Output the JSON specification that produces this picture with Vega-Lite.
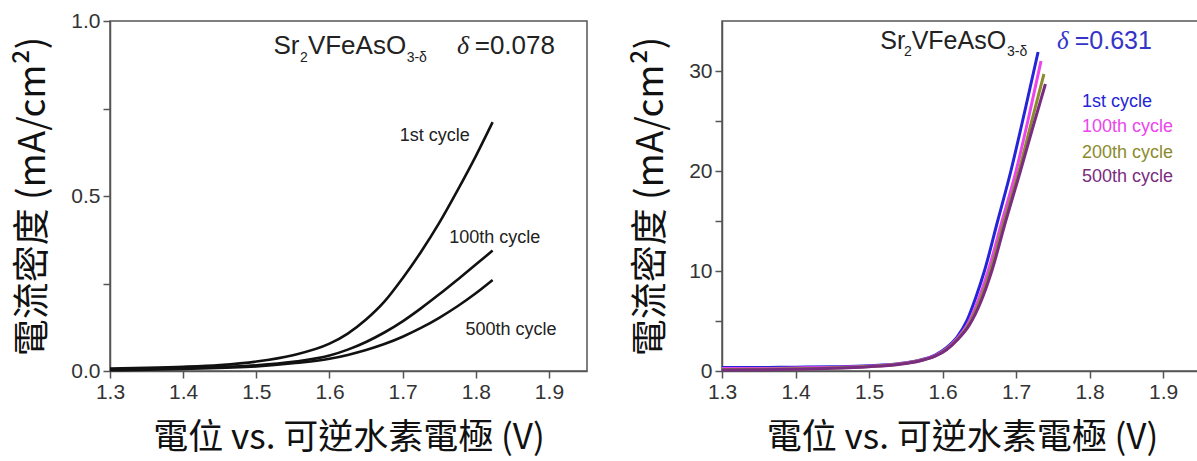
{
  "$schema": "https://vega.github.io/schema/vega-lite/v6.json",
  "background": "white",
  "padding": {"left": 14, "top": 9, "right": 0, "bottom": 4},
  "bounds": "flush",
  "spacing": 135,
  "config": {
    "view": {"stroke": "#555", "strokeWidth": 1.5},
    "axis": {
      "grid": false, "domainColor": "#555", "domainWidth": 1.5,
      "tickColor": "#555", "tickWidth": 1.5, "tickSize": 7, "labelFlush": false, "labelOverlap": false,
      "labelFont": "Liberation Sans", "labelFontSize": 21, "labelColor": "#333", "labelPadding": 3,
      "titleFont": "Noto Sans CJK TC", "titleFontSize": 35, "titleFontWeight": "normal", "titleColor": "#111"
    },
    "axisY": {"titleFontSize": 37},
    "text": {"font": "Liberation Sans"}
  },
  "datasets": {
    "left": [
      {"x":1.30,"y":0.007,"s":"1st"},{"x":1.35,"y":0.009,"s":"1st"},{"x":1.40,"y":0.012,"s":"1st"},{"x":1.45,"y":0.017,"s":"1st"},{"x":1.50,"y":0.027,"s":"1st"},{"x":1.55,"y":0.045,"s":"1st"},{"x":1.60,"y":0.078,"s":"1st"},{"x":1.625,"y":0.107,"s":"1st"},{"x":1.65,"y":0.147,"s":"1st"},{"x":1.675,"y":0.198,"s":"1st"},{"x":1.70,"y":0.265,"s":"1st"},{"x":1.725,"y":0.34,"s":"1st"},{"x":1.75,"y":0.423,"s":"1st"},{"x":1.775,"y":0.516,"s":"1st"},{"x":1.80,"y":0.614,"s":"1st"},{"x":1.823,"y":0.711,"s":"1st"},
      {"x":1.30,"y":0.004,"s":"100th"},{"x":1.40,"y":0.008,"s":"100th"},{"x":1.50,"y":0.016,"s":"100th"},{"x":1.55,"y":0.026,"s":"100th"},{"x":1.60,"y":0.044,"s":"100th"},{"x":1.625,"y":0.061,"s":"100th"},{"x":1.65,"y":0.083,"s":"100th"},{"x":1.675,"y":0.11,"s":"100th"},{"x":1.70,"y":0.142,"s":"100th"},{"x":1.725,"y":0.179,"s":"100th"},{"x":1.75,"y":0.219,"s":"100th"},{"x":1.775,"y":0.261,"s":"100th"},{"x":1.80,"y":0.304,"s":"100th"},{"x":1.823,"y":0.344,"s":"100th"},
      {"x":1.30,"y":0.002,"s":"500th"},{"x":1.40,"y":0.006,"s":"500th"},{"x":1.50,"y":0.013,"s":"500th"},{"x":1.55,"y":0.022,"s":"500th"},{"x":1.60,"y":0.035,"s":"500th"},{"x":1.625,"y":0.046,"s":"500th"},{"x":1.65,"y":0.060,"s":"500th"},{"x":1.675,"y":0.077,"s":"500th"},{"x":1.70,"y":0.098,"s":"500th"},{"x":1.725,"y":0.123,"s":"500th"},{"x":1.75,"y":0.152,"s":"500th"},{"x":1.775,"y":0.185,"s":"500th"},{"x":1.80,"y":0.222,"s":"500th"},{"x":1.823,"y":0.26,"s":"500th"}
    ],
    "leftLabels": [
      {"x":1.744,"y":0.671,"t":"1st cycle"},
      {"x":1.826,"y":0.380,"t":"100th cycle"},
      {"x":1.848,"y":0.117,"t":"500th cycle"}
    ],
    "leftMain": [{"x":1.5235,"y":0.905,"t":"Sr"},{"x":1.5705,"y":0.905,"t":"VFeAsO"},{"x":1.7985,"y":0.905,"t":"=0.078"}],
    "leftSub": [{"x":1.5596,"y":0.882,"t":"2"},{"x":1.7055,"y":0.882,"t":"3-δ"}],
    "leftDelta": [{"x":1.7743,"y":0.905,"t":"δ"}],
    "right": [
      {"x":1.30,"y":0.35,"s":"1st cycle"},{"x":1.35,"y":0.35,"s":"1st cycle"},{"x":1.40,"y":0.38,"s":"1st cycle"},{"x":1.45,"y":0.42,"s":"1st cycle"},{"x":1.50,"y":0.52,"s":"1st cycle"},{"x":1.54,"y":0.72,"s":"1st cycle"},{"x":1.57,"y":1.1,"s":"1st cycle"},{"x":1.59,"y":1.6,"s":"1st cycle"},{"x":1.605,"y":2.3,"s":"1st cycle"},{"x":1.62,"y":3.4,"s":"1st cycle"},{"x":1.633,"y":5.0,"s":"1st cycle"},{"x":1.645,"y":7.3,"s":"1st cycle"},{"x":1.657,"y":10.0,"s":"1st cycle"},{"x":1.675,"y":15.0,"s":"1st cycle"},{"x":1.693,"y":20.0,"s":"1st cycle"},{"x":1.712,"y":26.0,"s":"1st cycle"},{"x":1.730,"y":31.9,"s":"1st cycle"},
      {"x":1.30,"y":0.25,"s":"100th cycle"},{"x":1.35,"y":0.25,"s":"100th cycle"},{"x":1.40,"y":0.3,"s":"100th cycle"},{"x":1.45,"y":0.36,"s":"100th cycle"},{"x":1.50,"y":0.48,"s":"100th cycle"},{"x":1.54,"y":0.7,"s":"100th cycle"},{"x":1.57,"y":1.07,"s":"100th cycle"},{"x":1.59,"y":1.55,"s":"100th cycle"},{"x":1.605,"y":2.2,"s":"100th cycle"},{"x":1.62,"y":3.25,"s":"100th cycle"},{"x":1.635,"y":4.8,"s":"100th cycle"},{"x":1.648,"y":7.0,"s":"100th cycle"},{"x":1.662,"y":10.0,"s":"100th cycle"},{"x":1.681,"y":15.0,"s":"100th cycle"},{"x":1.700,"y":20.0,"s":"100th cycle"},{"x":1.717,"y":25.3,"s":"100th cycle"},{"x":1.734,"y":31.0,"s":"100th cycle"},
      {"x":1.30,"y":0.15,"s":"200th cycle"},{"x":1.35,"y":0.18,"s":"200th cycle"},{"x":1.40,"y":0.22,"s":"200th cycle"},{"x":1.45,"y":0.3,"s":"200th cycle"},{"x":1.50,"y":0.45,"s":"200th cycle"},{"x":1.54,"y":0.68,"s":"200th cycle"},{"x":1.57,"y":1.05,"s":"200th cycle"},{"x":1.59,"y":1.5,"s":"200th cycle"},{"x":1.605,"y":2.15,"s":"200th cycle"},{"x":1.62,"y":3.15,"s":"200th cycle"},{"x":1.636,"y":4.7,"s":"200th cycle"},{"x":1.65,"y":6.9,"s":"200th cycle"},{"x":1.665,"y":10.0,"s":"200th cycle"},{"x":1.684,"y":15.0,"s":"200th cycle"},{"x":1.704,"y":20.0,"s":"200th cycle"},{"x":1.721,"y":24.9,"s":"200th cycle"},{"x":1.738,"y":29.7,"s":"200th cycle"},
      {"x":1.30,"y":0.1,"s":"500th cycle"},{"x":1.35,"y":0.12,"s":"500th cycle"},{"x":1.40,"y":0.18,"s":"500th cycle"},{"x":1.45,"y":0.27,"s":"500th cycle"},{"x":1.50,"y":0.43,"s":"500th cycle"},{"x":1.54,"y":0.66,"s":"500th cycle"},{"x":1.57,"y":1.03,"s":"500th cycle"},{"x":1.59,"y":1.48,"s":"500th cycle"},{"x":1.605,"y":2.1,"s":"500th cycle"},{"x":1.62,"y":3.1,"s":"500th cycle"},{"x":1.637,"y":4.65,"s":"500th cycle"},{"x":1.652,"y":6.9,"s":"500th cycle"},{"x":1.667,"y":10.0,"s":"500th cycle"},{"x":1.686,"y":15.0,"s":"500th cycle"},{"x":1.706,"y":20.0,"s":"500th cycle"},{"x":1.723,"y":24.4,"s":"500th cycle"},{"x":1.740,"y":28.7,"s":"500th cycle"}
    ],
    "rightLegend": [
      {"x":1.7898,"y":26.87,"s":"1st cycle"},
      {"x":1.7898,"y":24.37,"s":"100th cycle"},
      {"x":1.7898,"y":21.77,"s":"200th cycle"},
      {"x":1.7898,"y":19.37,"s":"500th cycle"}
    ],
    "rightMain": [{"x":1.5154,"y":32.24,"t":"Sr"},{"x":1.558,"y":32.24,"t":"VFeAsO"}],
    "rightSub": [{"x":1.5475,"y":31.47,"t":"2"},{"x":1.6878,"y":31.47,"t":"3-δ"}],
    "rightDeltaVal": [{"x":1.7799,"y":32.24,"t":"=0.631"}],
    "rightDelta": [{"x":1.7558,"y":32.24,"t":"δ"}]
  },
  "hconcat": [
    {
      "width": 477, "height": 350,
      "layer": [
        {
          "data": {"name": "left"},
          "mark": {"type": "line", "color": "#111", "strokeWidth": 2.6, "interpolate": "monotone"},
          "encoding": {
            "x": {"field": "x", "type": "quantitative",
              "scale": {"domain": [1.3, 1.952], "nice": false, "zero": false},
              "axis": {"values": [1.3,1.4,1.5,1.6,1.7,1.8,1.9], "format": ".1f", "title": "電位 vs. 可逆水素電極 (V)", "titlePadding": 18}},
            "y": {"field": "y", "type": "quantitative",
              "scale": {"domain": [0, 1], "nice": false},
              "axis": {"values": [0,0.25,0.5,0.75,1], "labelExpr": "datum.value==0.25||datum.value==0.75 ? '' : format(datum.value,'.1f')", "title": "電流密度 (mA/cm²)", "titlePadding": 18}},
            "detail": {"field": "s"}
          }
        },
        {
          "data": {"name": "leftLabels"},
          "mark": {"type": "text", "fontSize": 18, "color": "#222", "align": "center", "baseline": "middle"},
          "encoding": {"x": {"field": "x", "type": "quantitative"}, "y": {"field": "y", "type": "quantitative"}, "text": {"field": "t"}}
        },
        {
          "data": {"name": "leftMain"},
          "mark": {"type": "text", "fontSize": 26, "color": "#222", "align": "left", "baseline": "alphabetic"},
          "encoding": {"x": {"field": "x", "type": "quantitative"}, "y": {"field": "y", "type": "quantitative"}, "text": {"field": "t"}}
        },
        {
          "data": {"name": "leftSub"},
          "mark": {"type": "text", "fontSize": 14, "color": "#222", "align": "left", "baseline": "alphabetic"},
          "encoding": {"x": {"field": "x", "type": "quantitative"}, "y": {"field": "y", "type": "quantitative"}, "text": {"field": "t"}}
        },
        {
          "data": {"name": "leftDelta"},
          "mark": {"type": "text", "fontSize": 26, "fontStyle": "italic", "font": "Liberation Serif", "color": "#222", "align": "left", "baseline": "alphabetic"},
          "encoding": {"x": {"field": "x", "type": "quantitative"}, "y": {"field": "y", "type": "quantitative"}, "text": {"field": "t"}}
        }
      ]
    },
    {
      "width": 480, "height": 350,
      "layer": [
        {
          "data": {"name": "right"},
          "mark": {"type": "line", "strokeWidth": 3, "interpolate": "monotone"},
          "encoding": {
            "x": {"field": "x", "type": "quantitative",
              "scale": {"domain": [1.3, 1.953], "nice": false, "zero": false},
              "axis": {"values": [1.3,1.4,1.5,1.6,1.7,1.8,1.9], "format": ".1f", "title": "電位 vs. 可逆水素電極 (V)", "titlePadding": 18}},
            "y": {"field": "y", "type": "quantitative",
              "scale": {"domain": [0, 35], "nice": false},
              "axis": {"values": [0,5,10,15,20,25,30], "labelExpr": "datum.value % 10 != 0 ? '' : format(datum.value,'d')", "title": "電流密度 (mA/cm²)", "titlePadding": 18}},
            "color": {"field": "s", "type": "nominal",
              "scale": {"domain": ["1st cycle","100th cycle","200th cycle","500th cycle"], "range": ["#2424d8","#ec45ec","#8b8b2c","#7a2c80"]},
              "legend": null}
          }
        },
        {
          "data": {"name": "rightLegend"},
          "mark": {"type": "text", "fontSize": 18, "align": "left", "baseline": "middle"},
          "encoding": {"x": {"field": "x", "type": "quantitative"}, "y": {"field": "y", "type": "quantitative"}, "text": {"field": "s"},
            "color": {"field": "s", "type": "nominal",
              "scale": {"domain": ["1st cycle","100th cycle","200th cycle","500th cycle"], "range": ["#2424d8","#ec45ec","#8b8b2c","#7a2c80"]},
              "legend": null}}
        },
        {
          "data": {"name": "rightMain"},
          "mark": {"type": "text", "fontSize": 25, "color": "#222", "align": "left", "baseline": "alphabetic"},
          "encoding": {"x": {"field": "x", "type": "quantitative"}, "y": {"field": "y", "type": "quantitative"}, "text": {"field": "t"}}
        },
        {
          "data": {"name": "rightSub"},
          "mark": {"type": "text", "fontSize": 14, "color": "#222", "align": "left", "baseline": "alphabetic"},
          "encoding": {"x": {"field": "x", "type": "quantitative"}, "y": {"field": "y", "type": "quantitative"}, "text": {"field": "t"}}
        },
        {
          "data": {"name": "rightDeltaVal"},
          "mark": {"type": "text", "fontSize": 25, "color": "#3434c8", "align": "left", "baseline": "alphabetic"},
          "encoding": {"x": {"field": "x", "type": "quantitative"}, "y": {"field": "y", "type": "quantitative"}, "text": {"field": "t"}}
        },
        {
          "data": {"name": "rightDelta"},
          "mark": {"type": "text", "fontSize": 25, "fontStyle": "italic", "font": "Liberation Serif", "color": "#3434c8", "align": "left", "baseline": "alphabetic"},
          "encoding": {"x": {"field": "x", "type": "quantitative"}, "y": {"field": "y", "type": "quantitative"}, "text": {"field": "t"}}
        }
      ]
    }
  ]
}
